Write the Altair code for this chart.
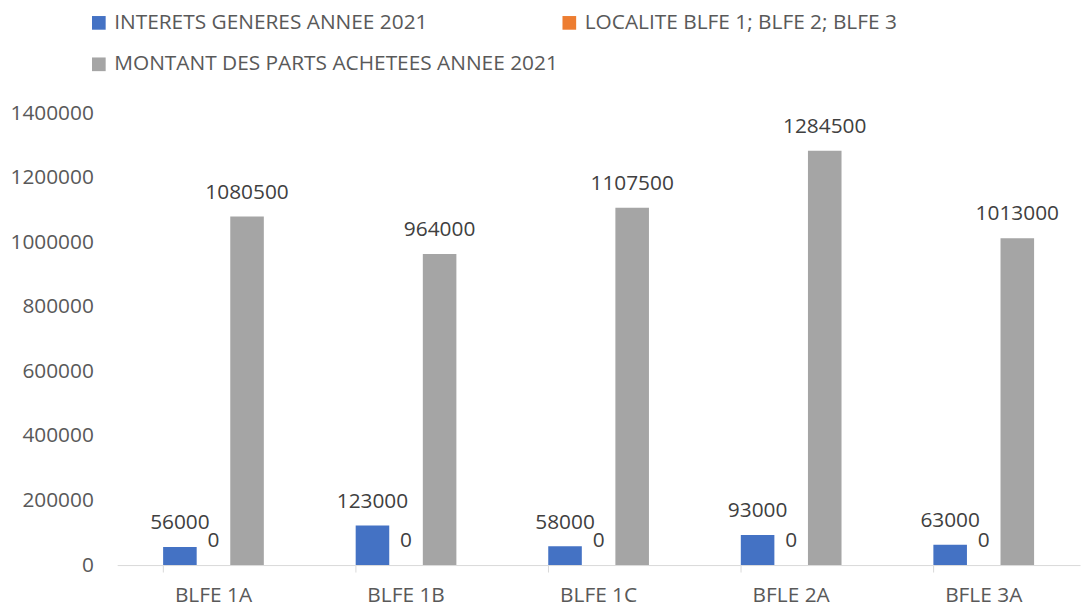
import altair as alt
import pandas as pd

categories = ["BLFE 1A", "BLFE 1B", "BLFE 1C", "BFLE 2A", "BFLE 3A"]
series = ["INTERETS GENERES ANNEE 2021", "LOCALITE BLFE 1; BLFE 2; BLFE 3", "MONTANT DES PARTS ACHETEES ANNEE 2021"]
interets = [56000, 123000, 58000, 93000, 63000]
localite = [0, 0, 0, 0, 0]
montant = [1080500, 964000, 1107500, 1284500, 1013000]
colors = {"INTERETS GENERES ANNEE 2021": "#4472C4",
          "LOCALITE BLFE 1; BLFE 2; BLFE 3": "#ED7D31",
          "MONTANT DES PARTS ACHETEES ANNEE 2021": "#A5A5A5"}
legend_order = [series[0], series[2], series[1]]
y_ticks = [0, 200000, 400000, 600000, 800000, 1000000, 1200000, 1400000]

rows = []
for name, vals in zip(series, [interets, localite, montant]):
    for c, v in zip(categories, vals):
        rows.append({"cat": c, "serie": name, "value": v})
df = pd.DataFrame(rows)

FONT = "Open Sans"
FS = 21

x = alt.X("cat:N", sort=categories, title=None,
          scale=alt.Scale(paddingInner=0.477, paddingOuter=0.2385),
          axis=alt.Axis(labelAngle=0, labelFontSize=FS, labelColor="#595959", labelFont=FONT,
                        domainColor="#D9D9D9", tickColor="#D9D9D9", tickSize=7,
                        bandPosition=0, labelBaseline="alphabetic", labelPadding=30, grid=False))
xo = alt.XOffset("serie:N", sort=series, scale=alt.Scale(paddingInner=0, paddingOuter=0))
y = alt.Y("value:Q", title=None,
          scale=alt.Scale(domain=[0, 1400000], nice=False),
          axis=alt.Axis(values=y_ticks, format="d", labelFontSize=FS, labelColor="#595959",
                        labelFont=FONT, domain=False, ticks=False, grid=False, labelPadding=24))

bars = alt.Chart(df).mark_bar().encode(
    x=x, xOffset=xo, y=y,
    color=alt.Color("serie:N",
                    scale=alt.Scale(domain=legend_order, range=[colors[s] for s in legend_order]),
                    legend=alt.Legend(title=None, orient="none", legendX=-29, legendY=-102,
                                      columns=2, columnPadding=-5, rowPadding=20,
                                      symbolType="square", symbolSize=190, symbolStrokeWidth=0,
                                      labelFontSize=FS, labelFont=FONT, labelColor="#595959",
                                      labelOffset=5, labelLimit=0)),
)

labels = alt.Chart(df).mark_text(baseline="alphabetic", dy=-18, fontSize=FS, font=FONT,
                                 color="#404040").encode(
    x=x, xOffset=xo, y=y, text=alt.Text("value:Q", format="d"),
)

chart = alt.layer(bars, labels).properties(
    width=970, height=455,
    autosize=alt.AutoSizeParams(type="none"),
    padding={"left": 110, "top": 104, "right": 2, "bottom": 40},
).configure_view(stroke=None)

chart.save("out.html", embed_options={"renderer": "svg", "actions": False})
